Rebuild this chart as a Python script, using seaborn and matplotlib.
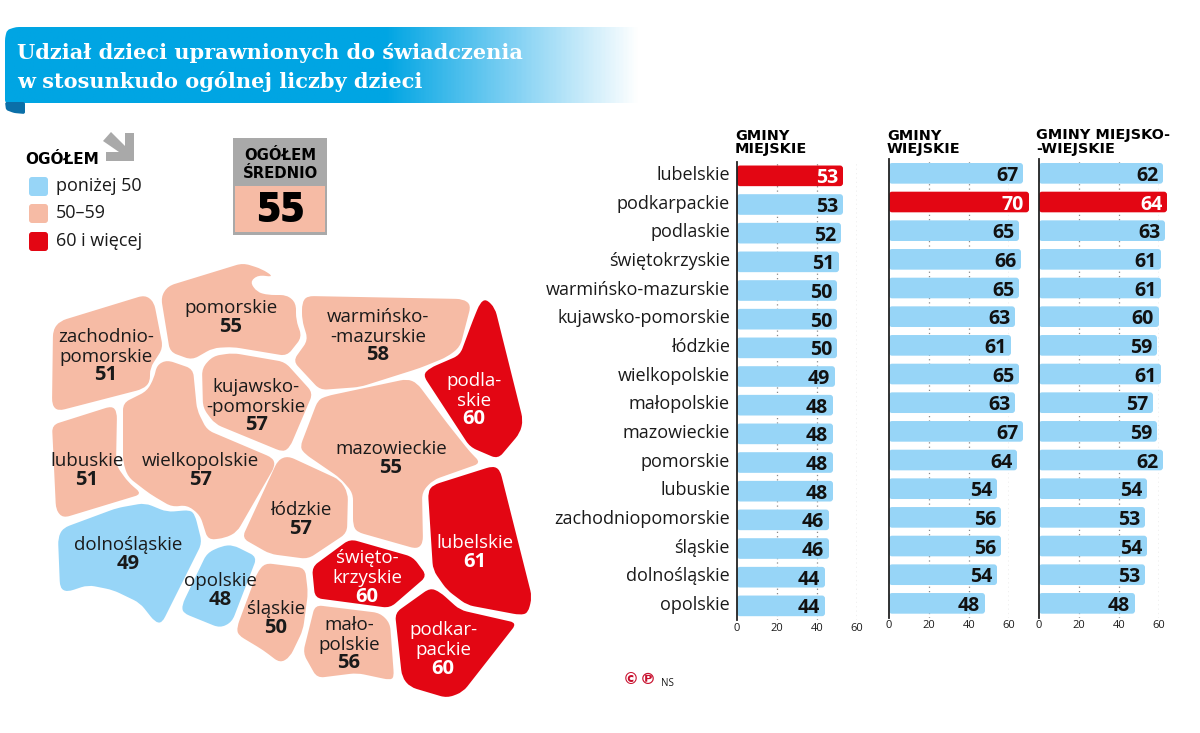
import numpy as np
import pandas as pd
import matplotlib
matplotlib.use('Agg')
import matplotlib.pyplot as plt
import seaborn as sns
from matplotlib.path import Path
from matplotlib.patches import PathPatch, Polygon, Rectangle, FancyBboxPatch
from matplotlib.colors import LinearSegmentedColormap
from matplotlib.transforms import ScaledTranslation

# bar data
regions = ['lubelskie', 'podkarpackie', 'podlaskie', 'świętokrzyskie', 'warmińsko-mazurskie',
           'kujawsko-pomorskie', 'łódzkie', 'wielkopolskie', 'małopolskie', 'mazowieckie',
           'pomorskie', 'lubuskie', 'zachodniopomorskie', 'śląskie', 'dolnośląskie', 'opolskie']
gminy_miejskie = [53, 53, 52, 51, 50, 50, 50, 49, 48, 48, 48, 48, 46, 46, 44, 44]
gminy_wiejskie = [67, 70, 65, 66, 65, 63, 61, 65, 63, 67, 64, 54, 56, 56, 54, 48]
gminy_miejsko_wiejskie = [62, 64, 63, 61, 61, 60, 59, 61, 57, 59, 62, 54, 53, 54, 53, 48]
highlight = ['lubelskie', 'podkarpackie', 'podkarpackie']
headers = ['GMINY\nMIEJSKIE', 'GMINY\nWIEJSKIE', 'GMINY MIEJSKO-\n-WIEJSKIE']
x_ticks = [0, 20, 40, 60]

# map data
map_values = {'zachodniopomorskie': 51, 'pomorskie': 55, 'warmińsko-mazurskie': 58, 'podlaskie': 60,
              'lubuskie': 51, 'wielkopolskie': 57, 'kujawsko-pomorskie': 57, 'mazowieckie': 55,
              'łódzkie': 57, 'lubelskie': 61, 'dolnośląskie': 49, 'opolskie': 48, 'śląskie': 50,
              'świętokrzyskie': 60, 'małopolskie': 56, 'podkarpackie': 60}
legend_labels = ['poniżej 50', '50–59', '60 i więcej']
average = 55

# schematic map, in picture pixels
outlines = {
    'zachodniopomorskie': [(53, 330), (60, 321), (145, 295), (154, 302), (163, 348), (150, 368), (150, 382), (143, 389), (58, 411), (52, 405)],
    'pomorskie': [(161, 297), (168, 286), (243, 263), (262, 269), (274, 277), (258, 275), (250, 282), (257, 292), (268, 295), (287, 295), (296, 303), (296, 320), (302, 337), (287, 356), (233, 347), (213, 348), (192, 360), (170, 352)],
    'warmińsko-mazurskie': [(302, 303), (307, 296), (463, 299), (471, 305), (460, 347), (447, 357), (420, 368), (360, 387), (320, 390), (293, 361), (308, 340), (302, 320)],
    'podlaskie': [(486, 299), (495, 308), (523, 420), (520, 433), (498, 459), (470, 447), (423, 375), (430, 368), (460, 355), (473, 320), (480, 303)],
    'mazowieckie': [(300, 447), (318, 400), (327, 396), (407, 379), (417, 383), (447, 423), (470, 452), (481, 463), (433, 480), (422, 492), (423, 543), (417, 549), (357, 532), (353, 525), (353, 493), (340, 478), (305, 454)],
    'kujawsko-pomorskie': [(202, 368), (213, 356), (233, 353), (285, 362), (313, 393), (290, 447), (283, 452), (215, 424), (203, 408)],
    'wielkopolskie': [(123, 403), (147, 391), (154, 378), (157, 365), (167, 360), (193, 369), (197, 410), (207, 430), (273, 458), (275, 466), (237, 532), (225, 538), (208, 540), (200, 515), (187, 505), (172, 507), (150, 494), (128, 477), (123, 462)],
    'lubuskie': [(52, 425), (112, 406), (117, 412), (116, 465), (128, 482), (142, 494), (63, 518), (56, 510)],
    'dolnośląskie': [(58, 538), (63, 528), (117, 508), (145, 503), (167, 512), (190, 510), (195, 515), (202, 543), (162, 623), (155, 622), (140, 603), (113, 590), (88, 585), (67, 592), (60, 588)],
    'opolskie': [(222, 546), (233, 545), (257, 557), (232, 622), (220, 628), (183, 613), (182, 605), (207, 553)],
    'śląskie': [(265, 563), (305, 568), (308, 593), (303, 630), (290, 657), (280, 663), (263, 650), (238, 635), (237, 627), (257, 573)],
    'łódzkie': [(242, 538), (278, 460), (288, 456), (340, 480), (348, 493), (347, 533), (308, 559), (270, 554)],
    'świętokrzyskie': [(312, 567), (350, 539), (413, 557), (427, 576), (390, 608), (315, 598)],
    'małopolskie': [(315, 605), (380, 613), (390, 623), (394, 677), (390, 680), (357, 673), (317, 678), (303, 653)],
    'lubelskie': [(428, 492), (433, 485), (493, 466), (500, 470), (532, 597), (528, 613), (520, 615), (467, 605), (447, 590), (433, 570)],
    'podkarpackie': [(395, 613), (430, 588), (440, 592), (460, 610), (517, 623), (463, 692), (447, 698), (410, 687), (402, 677)],
}
map_labels = {
    'zachodniopomorskie': ('zachodnio-\npomorskie', 106, 347), 'pomorskie': ('pomorskie', 231, 308),
    'warmińsko-mazurskie': ('warmińsko-\n-mazurskie', 378, 327), 'podlaskie': ('podla-\nskie', 474, 391),
    'lubuskie': ('lubuskie', 87, 461), 'wielkopolskie': ('wielkopolskie', 200, 461),
    'kujawsko-pomorskie': ('kujawsko-\n-pomorskie', 256, 397), 'mazowieckie': ('mazowieckie', 391, 449),
    'łódzkie': ('łódzkie', 301, 510), 'lubelskie': ('lubelskie', 475, 543), 'dolnośląskie': ('dolnośląskie', 128, 545),
    'opolskie': ('opolskie', 220, 581), 'śląskie': ('śląskie', 276, 609), 'świętokrzyskie': ('święto-\nkrzyskie', 367, 568),
    'małopolskie': ('mało-\npolskie', 349, 635), 'podkarpackie': ('podkar-\npackie', 443, 640),
}

BLUE = '#97D5F7'
SALMON = '#F6BBA5'
RED = '#E30613'
GREY = '#A9A9A9'
INK = '#1A1A1A'

sns.set_style('white')
plt.rcParams['font.family'] = ['Open Sans', 'DejaVu Sans']


def map_color(v):
    if v < 50:
        return BLUE
    return SALMON if v < 60 else RED


def rounded_path(points, r=7):
    # polygon with quadratic curves on the corners
    pts = np.array(points, dtype=float)
    n = len(pts)
    verts, codes = [], []
    for i in range(n):
        p, prev, nxt = pts[i], pts[i - 1], pts[(i + 1) % n]
        a = p + (prev - p) * min(r / np.linalg.norm(prev - p), 0.45)
        b = p + (nxt - p) * min(r / np.linalg.norm(nxt - p), 0.45)
        verts += [a, p, b]
        codes += [Path.MOVETO if i == 0 else Path.LINETO, Path.CURVE3, Path.CURVE3]
    verts.append(verts[0])
    codes.append(Path.CLOSEPOLY)
    return Path(verts, codes)


def px_axes(fig, left, top, width, height):
    return fig.add_axes([left / 1200, 1 - (top + height) / 733, width / 1200, height / 733])


fig = plt.figure(figsize=(12, 7.33), dpi=100)
bg = fig.add_axes([0, 0, 1, 1])
bg.set_axis_off()

# title ribbon
ribbon = LinearSegmentedColormap.from_list('ribbon', [(0, '#00A5E3'), (0.6, '#00A5E3'), (0.8, '#7FD0F3'), (1, '#FFFFFF')])
img = bg.imshow(np.linspace(0, 1, 400)[None, :], cmap=ribbon, extent=(5, 640, 103, 27), aspect='auto')
clip = PathPatch(rounded_path([(5, 38), (7, 30), (16, 27), (640, 27), (640, 103), (5, 103)], 3),
                 transform=bg.transData, fc='none', ec='none')
bg.add_patch(clip)
img.set_clip_path(clip)
bg.add_patch(PathPatch(rounded_path([(5, 102), (25, 102), (25, 114), (14, 113), (6, 110)], 2), fc='#0B6FA8', ec='none'))
bg.set_xlim(0, 1200)
bg.set_ylim(733, 0)
bg.text(17, 53, 'Udział dzieci uprawnionych do świadczenia', family='DejaVu Serif', weight='bold', fontsize=15, color='white', va='center')
bg.text(17, 81, 'w stosunkudo ogólnej liczby dzieci', family='DejaVu Serif', weight='bold', fontsize=15, color='white', va='center')

# legend
bg.text(25, 159, 'OGÓŁEM', family='DejaVu Sans', weight='bold', fontsize=11, color='black', va='center')
bg.add_patch(Polygon([(111, 132), (125, 146), (125, 133), (134, 133), (134, 161), (106, 161), (106, 152), (119, 152), (103, 141)], fc=GREY, ec='none'))
for label, color, y in zip(legend_labels, [BLUE, SALMON, RED], [177, 204, 232]):
    bg.add_patch(FancyBboxPatch((29, y), 19, 19, boxstyle='round,pad=0,rounding_size=3', fc=color, ec='none'))
    bg.text(56, y + 9, label, fontsize=13, color=INK, va='center')

# average box
bg.add_patch(Rectangle((233, 138), 94, 97, fc=GREY, ec='none'))
bg.add_patch(Rectangle((235, 186), 90, 46, fc=SALMON, ec='none'))
bg.text(280, 155, 'OGÓŁEM', family='DejaVu Sans', weight='bold', fontsize=10.7, color='black', ha='center', va='center')
bg.text(280, 174, 'ŚREDNIO', family='DejaVu Sans', weight='bold', fontsize=10.7, color='black', ha='center', va='center')
bg.text(280, 211, str(average), family='Open Sans', weight=800, fontsize=30, color='black', ha='center', va='center')

# map
for name, pts in outlines.items():
    value = map_values[name]
    bg.add_patch(PathPatch(rounded_path(pts), fc=map_color(value), ec='none'))
    text, x, y = map_labels[name]
    color = 'white' if value >= 60 else INK
    bg.text(x, y, text, fontsize=13.5, color=color, ha='center', va='center', linespacing=1.08)
    lines = text.count('\n')
    bg.text(x, y + 19 + 9.5 * lines, str(value), fontsize=14.5, weight='bold', color=color, ha='center', va='center')

# footer
bg.text(631, 680, '©', family='DejaVu Sans', weight='bold', fontsize=11.5, color='#C8102E', ha='center', va='center')
bg.text(648, 680, '℗', family='DejaVu Sans', weight='bold', fontsize=11.5, color='#C8102E', ha='center', va='center')
bg.text(661, 683, 'NS', fontsize=7, color=INK, va='center')

# bar panels
panels = [(737, 161.5, gminy_miejskie), (889, 159, gminy_wiejskie), (1039, 159, gminy_miejsko_wiejskie)]
header_x = [735, 887, 1036]
for k, (left, top, values) in enumerate(panels):
    ax = px_axes(fig, left, top, 120, 458.7)
    ax.patch.set_alpha(0)
    df = pd.DataFrame({'region': regions, 'value': values})
    df['hot'] = df['region'] == highlight[k]
    sns.barplot(data=df, y='region', x='value', hue='hot', palette={True: RED, False: BLUE},
                dodge=False, width=0.72, saturation=1, legend=False, ax=ax, zorder=2)
    # swap the square bars for rounded ones
    for bar in list(ax.patches):
        w, h = bar.get_width(), bar.get_height()
        if w > 0:
            ax.add_patch(FancyBboxPatch((bar.get_x(), bar.get_y()), w, h, boxstyle='round,pad=0,rounding_size=1.5',
                                        mutation_aspect=0.07, fc=bar.get_facecolor(), ec='none', clip_on=False, zorder=2))
        bar.remove()
    for i, v in enumerate(values):
        hot = regions[i] == highlight[k]
        ax.annotate(str(v), (v, i), xytext=(-3.5, 0), textcoords='offset points', ha='right', va='center_baseline',
                    fontsize=14, weight='bold', color='white' if hot else '#111111', zorder=3, annotation_clip=False)
    ax.set_xlim(0, 60)
    ax.set_ylim(15.5, -0.5)
    ax.set_xticks(x_ticks)
    ax.set_xlabel('')
    ax.set_ylabel('')
    for t in x_ticks[1:]:
        ax.axvline(t, color='#8A8A8A', lw=0.9, ls=(0, (1, 2.5)), zorder=1)
    sns.despine(ax=ax, top=True, right=True, bottom=True)
    ax.spines['left'].set_color('#222222')
    ax.spines['left'].set_linewidth(1.3)
    ax.tick_params(axis='x', length=0, pad=2, labelsize=8, labelcolor=INK)
    if k == 0:
        ax.tick_params(axis='y', length=0, pad=5, labelsize=13, labelcolor=INK)
        for lab in ax.get_yticklabels():
            lab.set_transform(lab.get_transform() + ScaledTranslation(0, 2 / 72, fig.dpi_scale_trans))
    else:
        ax.tick_params(axis='y', length=0, labelleft=False)
    bg.text(header_x[k], 142.5, headers[k], family='DejaVu Sans', weight='bold', fontsize=10.4, color='black',
            va='center', linespacing=1.0)

fig.savefig('out.png', dpi=100)
